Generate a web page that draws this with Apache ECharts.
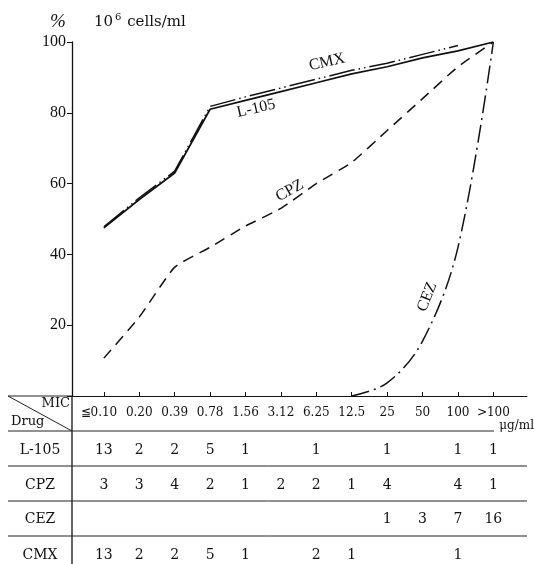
<!DOCTYPE html>
<html>
<head>
<meta charset="utf-8">
<script src="https://cdn.jsdelivr.net/npm/echarts@6/dist/echarts.min.js"></script>
<style>
  html, body { margin: 0; padding: 0; background: #fff; }
  #main { width: 534px; height: 564px; }
</style>
</head>
<body>
<div id="main"></div>
<script>
// MIC columns (µg/ml)
const micLabels = ['≦0.10', '0.20', '0.39', '0.78', '1.56', '3.12', '6.25', '12.5', '25', '50', '100', '>100']
const drugs = ['L-105', 'CPZ', 'CEZ', 'CMX']

// strain counts per MIC (table rows)
const countL105 = [13, 2, 2, 5, 1, null, 1, null, 1, null, 1, 1]
const countCPZ = [3, 3, 4, 2, 1, 2, 2, 1, 4, null, 4, 1]
const countCEZ = [null, null, null, null, null, null, null, null, 1, 3, 7, 16]
const countCMX = [13, 2, 2, 5, 1, null, 2, 1, null, null, 1, null]

// cumulative % curves
const pctL105 = [47.5, 55.5, 63, 81, 83.5, 86, 88.5, 91, 93, 95.5, 97.5, 100]
const pctCPZ = [10.7, 22.3, 36.4, 42, 48, 53, 60, 66, 75, 84, 93, 100]
const pctCEZ = [null, null, null, null, null, null, null, 0, 3.7, 15.5, 42, 100]
const pctCMX = [47.8, 56, 63.5, 81.8, 84.5, 87, 89.5, 92, 94, 96.5, 99, null]

const serif = 'Liberation Serif'
const tableFont = 'DejaVu Serif'

const toPairs = arr => arr.map((v, i) => [i, v]).filter(p => p[1] !== null)

const chart = echarts.init(document.getElementById('main'))

const option = {
  animation: false,
  backgroundColor: '#fff',
  grid: { left: 72, right: 7, top: 42, bottom: 168 },
  xAxis: {
    type: 'value',
    min: -0.9,
    max: 11.95,
    axisLine: { onZero: false, lineStyle: { color: '#111', width: 1 } },
    axisTick: {
      inside: true,
      length: 4,
      customValues: micLabels.map((m, i) => i),
      lineStyle: { color: '#111' }
    },
    axisLabel: { show: false },
    splitLine: { show: false }
  },
  yAxis: {
    type: 'value',
    min: 0,
    max: 100,
    interval: 20,
    axisLine: { show: true, onZero: false, lineStyle: { color: '#111', width: 1.3 } },
    axisTick: { show: true, length: 5, lineStyle: { color: '#111' } },
    axisLabel: {
      color: '#111',
      fontFamily: serif,
      fontSize: 16,
      margin: 6,
      formatter: v => (v === 0 ? '' : v)
    },
    splitLine: { show: false }
  },
  series: [
    {
      name: 'L-105',
      type: 'line',
      data: toPairs(pctL105),
      symbol: 'none',
      lineStyle: { color: '#111', width: 1.7, type: 'solid' }
    },
    {
      name: 'CMX',
      type: 'line',
      data: toPairs(pctCMX),
      symbol: 'none',
      lineStyle: { color: '#111', width: 1.5, type: [26, 4, 1.5, 4, 1.5, 4] }
    },
    {
      name: 'CPZ',
      type: 'line',
      data: toPairs(pctCPZ),
      symbol: 'none',
      smooth: 0.15,
      lineStyle: { color: '#111', width: 1.5, type: [11, 7] }
    },
    {
      name: 'CEZ',
      type: 'line',
      data: toPairs(pctCEZ),
      symbol: 'none',
      smooth: 0.35,
      lineStyle: { color: '#111', width: 1.5, type: [18, 5, 2, 5] }
    }
  ]
}

chart.setOption(option)

// ---- labels and the table under the axis ----
const px = (x, y) => chart.convertToPixel({ gridIndex: 0 }, [x, y])
const deg = d => d * Math.PI / 180
const els = []

// curve names, placed in data coords
const curveNames = [
  { text: 'CMX', at: [6.3, 94.3], rot: 13 },
  { text: 'L-105', at: [4.3, 81.2], rot: 13 },
  { text: 'CPZ', at: [5.25, 58], rot: 29 },
  { text: 'CEZ', at: [9.13, 28], rot: 68 }
]
curveNames.forEach(c => {
  const p = px(c.at[0], c.at[1])
  els.push({
    type: 'text', x: p[0], y: p[1], rotation: deg(c.rot),
    style: { text: c.text, font: '16px "' + serif + '"', fill: '#111', align: 'center', verticalAlign: 'middle' }
  })
})

// unit heading
els.push({
  type: 'text', x: 58, y: 22,
  style: { text: '%', font: 'italic 19px "' + serif + '"', fill: '#111', align: 'center', verticalAlign: 'middle' }
})
els.push({
  type: 'text', x: 94, y: 22,
  style: {
    text: '{b|10}{s|6}{b| cells/ml}',
    fill: '#111',
    verticalAlign: 'middle',
    rich: {
      b: { fontFamily: tableFont, fontSize: 15, fill: '#111' },
      s: { fontFamily: tableFont, fontSize: 10, fill: '#111', verticalAlign: 'top', padding: [0, 1, 9, 2] }
    }
  }
})

// table geometry
const axisY = 396
const rowLines = [431, 466, 501, 536]
const headerY = 413
const rowY = [450, 485, 519, 555]
const left = 8
const rightEnd = 527
const divX = 72
const lineStyle = { stroke: '#222', lineWidth: 1 }

// top line continues the x axis to the left
els.push({ type: 'line', shape: { x1: left, y1: axisY, x2: divX, y2: axisY }, style: lineStyle })
// vertical divider under the y axis
els.push({ type: 'line', shape: { x1: divX, y1: axisY, x2: divX, y2: 564 }, style: { stroke: '#111', lineWidth: 1.3 } })
// diagonal header cell
els.push({ type: 'line', shape: { x1: left, y1: axisY, x2: divX, y2: rowLines[0] }, style: lineStyle })
rowLines.forEach((y, i) => {
  els.push({ type: 'line', shape: { x1: left, y1: y, x2: i === 0 ? 494 : rightEnd, y2: y }, style: lineStyle })
})

const tStyle = (text, size, align) => ({
  text: text, font: size + 'px "' + tableFont + '"', fill: '#111', align: align || 'center', verticalAlign: 'middle'
})
els.push({ type: 'text', x: 70, y: 404, style: tStyle('MIC', 13, 'right') })
els.push({ type: 'text', x: 11, y: 422, style: tStyle('Drug', 13, 'left') })

micLabels.forEach((m, i) => {
  const p = px(i, 0)
  // first label is wider; it sits a little to the left of its tick
  const shift = i === 0 ? -5 : 0
  els.push({ type: 'text', x: p[0] + shift, y: headerY, style: tStyle(m, 12) })
})
els.push({ type: 'text', x: 534, y: 426, style: tStyle('μg/ml', 12, 'right') })

const rows = [countL105, countCPZ, countCEZ, countCMX]
rows.forEach((row, r) => {
  els.push({ type: 'text', x: 40, y: rowY[r], style: tStyle(drugs[r], 14) })
  row.forEach((v, i) => {
    if (v === null) return
    const p = px(i, 0)
    els.push({ type: 'text', x: p[0], y: rowY[r], style: tStyle(String(v), 14) })
  })
})

chart.setOption({ graphic: { elements: els } })
</script>
</body>
</html>
